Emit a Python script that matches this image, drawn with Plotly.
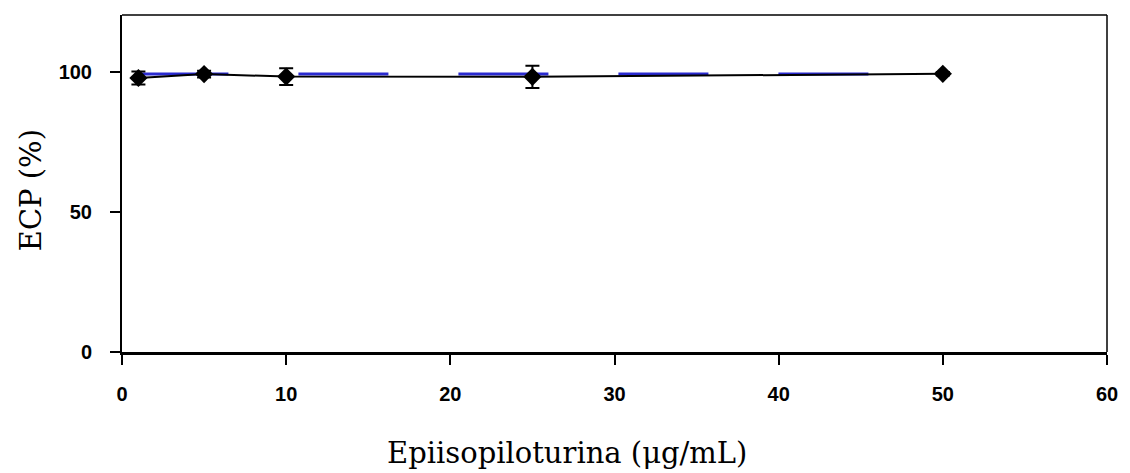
import plotly.graph_objects as go

conc = [1, 5, 10, 25, 50]
ecp = [97.9, 99.3, 98.4, 98.3, 99.4]
err = [2.3, 1.2, 3.0, 4.0, 0.6]
trend_x = [1, 50]
trend_y = [99.3, 99.3]

fig = go.Figure()
fig.add_trace(go.Scatter(x=trend_x, y=trend_y, mode="lines",
                         line=dict(color="#2a2ad0", width=3, dash="90px,70px"),
                         showlegend=False, hoverinfo="skip"))
fig.add_trace(go.Scatter(x=conc, y=ecp, mode="lines+markers",
                         line=dict(color="black", width=2),
                         marker=dict(symbol="diamond", size=14, color="black"),
                         error_y=dict(type="data", array=err, color="black", thickness=2, width=7),
                         showlegend=False))

tickfont = dict(family="Liberation Sans, Arial", size=20, color="black", weight="bold")
fig.update_layout(
    width=1130, height=473,
    margin=dict(l=122, r=17, t=15, b=121),
    paper_bgcolor="white", plot_bgcolor="white",
    font=dict(family="Liberation Sans, Arial", color="black"),
    xaxis=dict(range=[0, 60], tickvals=[0, 10, 20, 30, 40, 50, 60],
               showline=True, linecolor="black", linewidth=3, mirror=False,
               ticks="outside", ticklen=10, tickwidth=2, tickcolor="black",
               ticklabelstandoff=12,
               showgrid=False, zeroline=False, tickfont=tickfont),
    yaxis=dict(range=[0, 120.4], tickvals=[0, 50, 100],
               showline=True, linecolor="black", linewidth=2, mirror=False,
               ticks="outside", ticklen=10, tickwidth=2, tickcolor="black",
               ticklabelstandoff=14,
               showgrid=False, zeroline=False, tickfont=tickfont),
)
# frame top and right
fig.add_shape(type="line", xref="paper", yref="paper", x0=0, x1=1, y0=1, y1=1,
              line=dict(color="black", width=1.5))
fig.add_shape(type="line", xref="paper", yref="paper", x0=1, x1=1, y0=0, y1=1,
              line=dict(color="black", width=1.5))

titlefont = dict(family="DejaVu Serif, Liberation Serif", size=29, color="black")
fig.add_annotation(text="Epiisopiloturina (μg/mL)", xref="paper", yref="paper",
                   x=0.452, y=-0.30, xanchor="center", yanchor="middle",
                   showarrow=False, font=titlefont)
fig.add_annotation(text="ECP (%)", xref="paper", yref="paper", textangle=-90,
                   x=-0.092, y=0.481, xanchor="center", yanchor="middle",
                   showarrow=False, font=titlefont)

fig.write_html("out.html")
